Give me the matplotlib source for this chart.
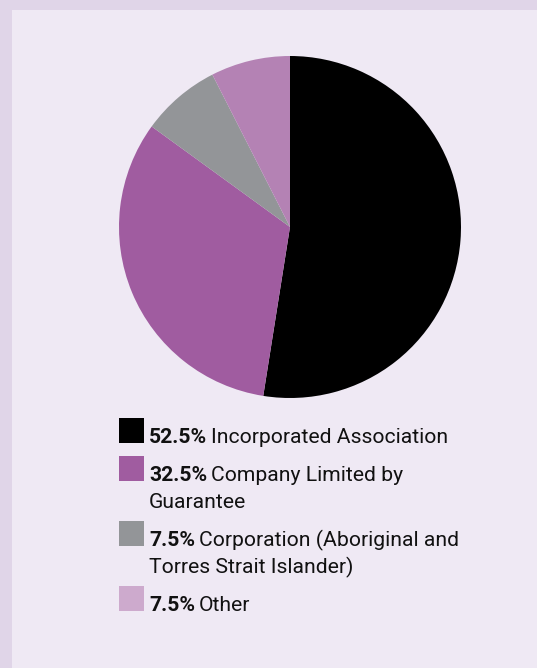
import matplotlib
matplotlib.use("Agg")
import matplotlib.pyplot as plt
from matplotlib.patches import Rectangle

# Data
shares = [52.5, 32.5, 7.5, 7.5]
pct_labels = ["52.5%", "32.5%", "7.5%", "7.5%"]
label_lines = [
    ["Incorporated Association"],
    ["Company Limited by", "Guarantee"],
    ["Corporation (Aboriginal and", "Torres Strait Islander)"],
    ["Other"],
]

# Styles
pie_colors = ["#000000", "#a05ca0", "#939598", "#b482b4"]
swatch_colors = ["#000000", "#a05ca0", "#939598", "#cdaacd"]
border_color = "#e0d5e8"
panel_color = "#efe9f4"

W, H = 537, 668
fig = plt.figure(figsize=(W / 100, H / 100), dpi=100)
fig.patch.set_facecolor(border_color)

ax = fig.add_axes([0, 0, 1, 1])
ax.set_xlim(0, W)
ax.set_ylim(H, 0)
ax.set_aspect("equal")
ax.axis("off")

# inner panel (border only top and left)
ax.add_patch(Rectangle((12, 10), W - 12, H - 10, facecolor=panel_color,
                       edgecolor="none", zorder=0))

# pie in its own axes (y up) placed over the pixel frame
cx, cy, r = 290, 227, 171
pax = fig.add_axes([(cx - r) / W, (H - cy - r) / H, 2 * r / W, 2 * r / H])
pax.pie(shares, colors=pie_colors, startangle=90, counterclock=False,
        wedgeprops=dict(linewidth=0))
pax.set_xlim(-1, 1)
pax.set_ylim(-1, 1)
pax.set_aspect("equal")
pax.axis("off")

# legend
fs = 15.2
font = "Roboto"
sw_x, sw_size = 119, 25
text_x = 149
row_step = 38
line_step = 27
baseline = 443

renderer = fig.canvas.get_renderer()
for pct, lines, col in zip(pct_labels, label_lines, swatch_colors):
    ax.add_patch(Rectangle((sw_x, baseline - sw_size), sw_size, sw_size,
                           facecolor=col, edgecolor="none", zorder=2))
    t = ax.text(text_x, baseline, pct, fontsize=fs, fontweight="bold",
                family=font, va="baseline", ha="left", color="#111111")
    bb = t.get_window_extent(renderer=renderer)
    space = 4
    ax.text(text_x + bb.width + space, baseline, lines[0], fontsize=fs,
            family=font, va="baseline", ha="left", color="#111111")
    for extra in lines[1:]:
        baseline += line_step
        ax.text(text_x, baseline, extra, fontsize=fs, family=font,
                va="baseline", ha="left", color="#111111")
    baseline += row_step

fig.savefig("out.png", dpi=100, facecolor=fig.get_facecolor())
